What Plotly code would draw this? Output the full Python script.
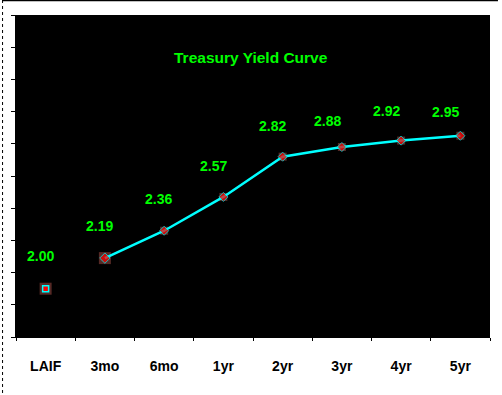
import plotly.graph_objects as go

categories = ["LAIF", "3mo", "6mo", "1yr", "2yr", "3yr", "4yr", "5yr"]
yields = [2.00, 2.19, 2.36, 2.57, 2.82, 2.88, 2.92, 2.95]
value_labels = ["2.00", "2.19", "2.36", "2.57", "2.82", "2.88", "2.92", "2.95"]
title_text = "Treasury Yield Curve"

# styling (label offsets in px)
label_dx = [-5, -5, -6, -10, -10, -14, -15, -15]
label_dy = [33, 32, 32, 31, 31, 26, 30, 24]

W, H = 502, 395
ML, MR, MT, MB = 14, 12, 15, 58
GREEN = "#00ff00"
CYAN = "#00ffff"
BROWN = "#7a3b34"
RED = "#ff0000"

fig = go.Figure()

# backing squares
fig.add_trace(go.Scatter(
    x=categories, y=yields, mode="markers", hoverinfo="skip",
    marker=dict(symbol="square", color=BROWN,
                size=[12, 12, 8, 8, 8, 8, 8, 8], line=dict(width=0)),
    showlegend=False))

# LAIF marker
fig.add_trace(go.Scatter(
    x=categories[:1], y=yields[:1], mode="markers",
    marker=dict(symbol="square", color=RED, size=6, line=dict(color=CYAN, width=1.5)),
    showlegend=False))

# curve
fig.add_trace(go.Scatter(
    x=categories[1:], y=yields[1:], mode="lines+markers",
    line=dict(color=CYAN, width=2.5),
    marker=dict(symbol="diamond", color=RED,
                size=[8, 7, 7, 7, 7, 7, 7], line=dict(color=CYAN, width=1)),
    showlegend=False))

for c, v, t, dx, dy in zip(categories, yields, value_labels, label_dx, label_dy):
    fig.add_annotation(x=c, y=v, text=f"<b>{t}</b>", showarrow=False,
                       xshift=dx, yshift=dy,
                       font=dict(family="Liberation Sans, Arial", size=14, color=GREEN))

fig.add_annotation(xref="paper", yref="paper", x=0.496, y=(H - MB - 57) / (H - MT - MB),
                   text=f"<b>{title_text}</b>", showarrow=False, yanchor="middle",
                   font=dict(family="Liberation Sans, Arial", size=15.5, color=GREEN))

pw = W - ML - MR
ph = H - MT - MB
# top border
fig.add_shape(type="line", xref="paper", yref="paper",
              x0=(0 - ML) / pw, x1=(498 - ML) / pw,
              y0=(H - MB - 0.5) / ph, y1=(H - MB - 0.5) / ph,
              line=dict(color="black", width=1.5))
# left dashed border
fig.add_shape(type="line", xref="paper", yref="paper",
              x0=(0.5 - ML) / pw, x1=(0.5 - ML) / pw,
              y0=(H - MB) / ph, y1=(H - MB - H) / ph,
              line=dict(color="black", width=1, dash="dot"))

fig.update_layout(
    width=W, height=H,
    margin=dict(l=ML, r=MR, t=MT, b=MB),
    paper_bgcolor="white", plot_bgcolor="black",
    showlegend=False,
)
fig.update_xaxes(
    type="category", range=[-0.5, 7.5], tickson="boundaries",
    ticks="outside", ticklen=3, tickcolor="black", tickwidth=1,
    showgrid=False, zeroline=False, showline=True, linecolor="black",
    tickfont=dict(family="Liberation Sans, Arial", size=14, color="black"),
    ticklabelstandoff=16,
    tickvals=categories, ticktext=[f"<b>{c}</b>" for c in categories],
)
fig.update_yaxes(
    range=[1.7, 3.7], tick0=1.7, dtick=0.2,
    ticks="outside", ticklen=4, tickcolor="black", tickwidth=1,
    showticklabels=False, showgrid=False, zeroline=False,
    showline=True, linecolor="black",
)

fig.write_html("out.html", config={"displayModeBar": False},
               post_script="document.body.style.margin='0';document.body.style.overflow='hidden';")
